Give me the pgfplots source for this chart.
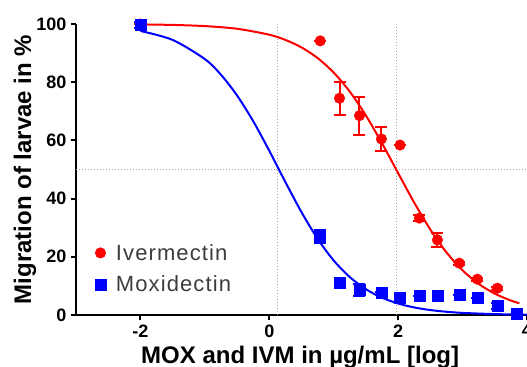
\documentclass[border=0pt]{standalone}
\usepackage{fontspec}
\setmainfont{Liberation Sans}
\usepackage{pgfplots}
\pgfplotsset{compat=1.18}
\definecolor{legtext}{RGB}{60,60,60}
\begin{document}
\begin{tikzpicture}
\useasboundingbox (-76bp,-52bp) rectangle (451bp,315bp);
\begin{axis}[
  at={(0,0)}, anchor=south west,
  scale only axis, width=451bp, height=291bp,
  xmin=-3, xmax=4, ymin=0, ymax=100,
  axis lines=left,
  axis line style={line width=2.5bp, -},
  xtick={-2,0,2,4}, ytick={0,20,40,60,80,100},
  tick align=outside, major tick length=5bp,
  tick style={line width=2bp, black},
  minor tick num=0,
  clip=false,
  /pgf/number format/assume math mode=true,
  ticklabel style={font=\fontsize{18bp}{20bp}\selectfont\bfseries},
  xticklabel style={yshift=-1bp},
  yticklabel style={xshift=-1bp},
  xlabel={MOX and IVM in µg/mL [log]},
  ylabel={Migration of larvae in \%},
  xlabel style={font=\fontsize{24bp}{26bp}\selectfont\bfseries, at={(axis description cs:0.497,-0.168)}, anchor=base},
  ylabel style={font=\fontsize{24bp}{26bp}\selectfont\bfseries, at={(axis description cs:-0.113,0.5)}, anchor=center, rotate=0},
  legend style={at={(axis description cs:0.035,0.061)}, anchor=south west, draw=none, fill=none,
    font=\fontsize{22bp}{24bp}\selectfont\addfontfeatures{LetterSpace=5}\color{legtext}, row sep=10bp},
  legend cell align=left,
]
% reference lines
\addplot[gray!70, dotted, line width=1bp, forget plot] coordinates {(-3,50) (4,50)};
\addplot[gray!70, dotted, line width=1bp, forget plot] coordinates {(0.12,0) (0.12,100)};
\addplot[gray!70, dotted, line width=1bp, forget plot] coordinates {(1.97,0) (1.97,100)};
% fitted curves
\addplot[red, line width=2bp, smooth, forget plot] coordinates {
(-2,99.86) (-1.5,99.68) (-1,99.28) (-0.5,98.36) (0,96.32) (0.25,94.53) (0.5,91.95) (0.75,88.30)
(1.0,83.30) (1.25,76.73) (1.5,68.54) (1.75,59.00) (2.0,48.76) (2.25,38.60) (2.5,29.35)
(2.75,21.53) (3.0,15.35) (3.25,10.70) (3.5,7.33) (3.75,4.97) (3.88,4.05)};
\addplot[blue, line width=2bp, smooth, forget plot] coordinates {
(-2,97.60) (-1.5,94.53) (-1,87.94) (-0.75,82.56) (-0.5,75.44) (-0.25,66.62) (0,56.44)
(0.25,45.68) (0.5,35.34) (0.75,26.19) (1.0,18.72) (1.25,13.02) (1.5,8.86) (1.75,5.94)
(2.0,3.94) (2.25,2.59) (2.5,1.70) (2.75,1.11) (3.0,0.72) (3.5,0.31) (4.0,0.13)};
% data
\addplot[red, only marks, mark=*, mark size=5.3bp,
  error bars/.cd, y dir=both, y explicit, error mark=|,
  error bar style={line width=2bp, red},
  error mark options={line width=2bp, mark size=6bp, red}]
  coordinates {
  (-2,100) +- (0,0)
  (0.79,94.2) +- (0,0)
  (1.09,74.5) +- (0,5.7)
  (1.40,68.5) +- (0,6.5)
  (1.74,60.5) +- (0,4.0)
  (2.03,58.4) +- (0,0)
  (2.33,33.3) +- (0,1.0)
  (2.61,25.8) +- (0,2.5)
  (2.95,17.8) +- (0,0.5)
  (3.23,12.3) +- (0,0.5)
  (3.54,9.2) +- (0,0.5)
};
\addlegendentry{\hspace{8bp}Ivermectin}
\addplot[blue, only marks, mark=square*, mark size=5.5bp,
  error bars/.cd, y dir=both, y explicit, error mark=|,
  error bar style={line width=2bp, blue},
  error mark options={line width=2bp, mark size=6bp, blue}]
  coordinates {
  (-2,99.7) +- (0,1.0)
  (0.78,26.9) +- (0,2.2)
  (1.09,11.0) +- (0,0)
  (1.40,8.6) +- (0,2.0)
  (1.74,7.5) +- (0,0.5)
  (2.03,5.8) +- (0,0.5)
  (2.33,6.5) +- (0,0)
  (2.62,6.5) +- (0,0)
  (2.95,6.9) +- (0,0)
  (3.23,5.8) +- (0,0)
  (3.54,3.1) +- (0,1.0)
  (3.84,0.6) +- (0,0)
};
\addlegendentry{\hspace{8bp}Moxidectin}
\end{axis}
\end{tikzpicture}
\end{document}
